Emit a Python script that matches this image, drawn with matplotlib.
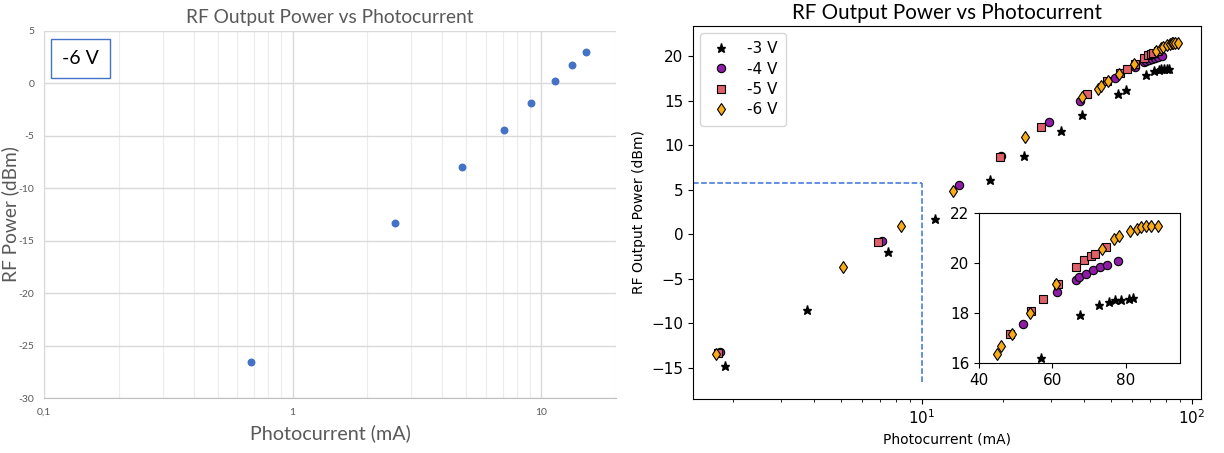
import matplotlib
matplotlib.use("Agg")
import matplotlib.pyplot as plt
from matplotlib.ticker import FixedLocator, NullFormatter, LogLocator

# -6 V bias, single sweep (left)
i_6v_single = [0.68, 2.58, 4.79, 7.08, 9.12, 11.37, 13.3, 15.1]
p_6v_single = [-26.57, -13.32, -7.96, -4.40, -1.89, 0.2, 1.73, 3.03]

# all bias voltages (right)
i_3v = [1.86, 3.76, 7.51, 11.2, 17.9, 23.9, 32.8, 39.0, 53.2, 56.8, 67.5, 72.6,
        75.5, 77.0, 78.6, 80.9, 82.0]
p_3v = [-14.8, -8.5, -1.96, 1.76, 6.07, 8.83, 11.65, 13.4, 15.75, 16.21, 17.91,
        18.31, 18.45, 18.53, 18.53, 18.57, 18.61]

i_4v = [1.79, 7.09, 13.7, 19.7, 29.6, 38.4, 51.9, 61.3, 66.3, 67.3, 69.2, 71.0,
        72.9, 74.8, 77.7]
p_4v = [-13.25, -0.71, 5.5, 8.75, 12.65, 15.0, 17.56, 18.84, 19.33, 19.43, 19.56,
        19.71, 19.83, 19.91, 20.07]

i_5v = [1.76, 6.85, 19.5, 27.5, 40.7, 48.5, 54.2, 57.5, 61.6, 66.4, 68.6, 70.4,
        71.5, 74.6]
p_5v = [-13.3, -0.93, 8.7, 12.0, 15.7, 17.16, 18.07, 18.57, 19.17, 19.83, 20.11,
        20.27, 20.36, 20.63]

i_6v = [1.73, 5.11, 8.37, 13.0, 24.0, 39.2, 44.9, 46.1, 49.0, 53.8, 60.9, 73.6,
        76.7, 78.2, 81.1, 82.9, 84.1, 85.4, 86.7, 88.7]
p_6v = [-13.5, -3.67, 0.9, 4.9, 10.9, 15.4, 16.37, 16.67, 17.17, 18.0, 19.17,
        20.56, 20.96, 21.09, 21.29, 21.36, 21.43, 21.47, 21.47, 21.49]

series = [
    (i_3v, p_3v, '-3 V', dict(marker='*', color='black', ms=6.5, mec='black')),
    (i_4v, p_4v, '-4 V', dict(marker='o', color='#8e1ca6', ms=6, mec='black', mew=0.8)),
    (i_5v, p_5v, '-5 V', dict(marker='s', color='#e0606a', ms=5.5, mec='black', mew=0.8)),
    (i_6v, p_6v, '-6 V', dict(marker='d', color='#f8ac17', ms=6.5, mec='black', mew=0.8)),
]

fig = plt.figure(figsize=(12.24, 4.53), dpi=100)
W, H = 1224.0, 453.0

# ---- Excel style chart ----
gray = '#595959'
ax1 = fig.add_axes([44 / W, (H - 398) / H, (616 - 44) / W, (398 - 31) / H])
ax1.scatter(i_6v_single, p_6v_single, s=22, color='#4472c4', zorder=3)
ax1.set_xscale('log')
ax1.set_xlim(0.1, 20)
ax1.set_ylim(-30, 5)
ax1.set_yticks(range(-30, 6, 5))
ax1.set_yticklabels([str(v) for v in range(-30, 6, 5)])
ax1.xaxis.set_major_locator(FixedLocator([0.1, 1, 10]))
ax1.set_xticklabels(['0,1', '1', '10'])
ax1.xaxis.set_minor_locator(LogLocator(base=10, subs=range(2, 10)))
ax1.xaxis.set_minor_formatter(NullFormatter())
ax1.grid(True, which='major', color='#d9d9d9', lw=1.0)
ax1.grid(True, which='minor', axis='x', color='#ececec', lw=0.8)
ax1.set_axisbelow(True)
for s in ['top', 'right']:
    ax1.spines[s].set_visible(False)
ax1.spines['left'].set_color('#d9d9d9')
ax1.spines['bottom'].set_color('#bfbfbf')
ax1.tick_params(which='both', length=0, labelsize=7.5, labelcolor=gray, pad=7)
for lab in ax1.get_xticklabels() + ax1.get_yticklabels():
    lab.set_family('Lato')
ax1.set_title('RF Output Power vs Photocurrent', family='Lato', fontsize=13.8,
              color=gray, pad=6)
ax1.set_xlabel('Photocurrent (mA)', family='Lato', fontsize=14.2, color=gray)
ax1.xaxis.set_label_coords(0.5, -0.072)
ax1.set_ylabel('RF Power (dBm)', family='Lato', fontsize=13.8, color=gray)
ax1.yaxis.set_label_coords(-0.044, 0.5)
ax1.annotate('-6 V', xy=(0.064, 0.925), xycoords='axes fraction', ha='center',
             va='center', family='Lato', fontsize=14, color='black',
             bbox=dict(boxstyle='square,pad=0.55', fc='white', ec='#4472c4', lw=1.0))

# ---- all biases, log axis ----
ax2 = fig.add_axes([693 / W, (H - 399) / H, (1201 - 693) / W, (399 - 26) / H])
for x, y, lab, kw in series:
    ax2.plot(x, y, ls='none', label=lab, **kw)
ax2.set_xscale('log')
ax2.set_yticks([-15, -10, -5, 0, 5, 10, 15, 20])
ax2.tick_params(labelsize=11)
ax2.set_xlabel('Photocurrent (mA)', fontsize=10)
ax2.set_ylabel('RF Output Power (dBm)', fontsize=10)
ax2.set_title('RF Output Power vs Photocurrent', family='Lato', fontsize=14.8, pad=5)
leg = ax2.legend(loc='upper left', fontsize=11, handlelength=1.6, handletextpad=0.95,
                 borderpad=0.55, labelspacing=0.35, borderaxespad=0.45)

# dashed box marking the range of the single sweep
y_box = 5.7
xl = ax2.get_xlim()
ax2.plot([xl[0], 10], [y_box, y_box], ls='--', color='#3a72d8', lw=1.1)
ax2.plot([10, 10], [ax2.get_ylim()[0], y_box], ls='--', color='#3a72d8', lw=1.1)
ax2.set_xlim(xl)

# inset zoom on the high-current end
ax3 = fig.add_axes([979 / W, (H - 363) / H, (1180 - 979) / W, (363 - 213) / H])
for x, y, lab, kw in series:
    ax3.plot(x, y, ls='none', **kw)
ax3.set_xlim(40, 94.7)
ax3.set_ylim(16, 22)
ax3.set_xticks([40, 60, 80])
ax3.set_yticks([16, 18, 20, 22])
ax3.tick_params(labelsize=11)

fig.savefig('out.png', dpi=100)
